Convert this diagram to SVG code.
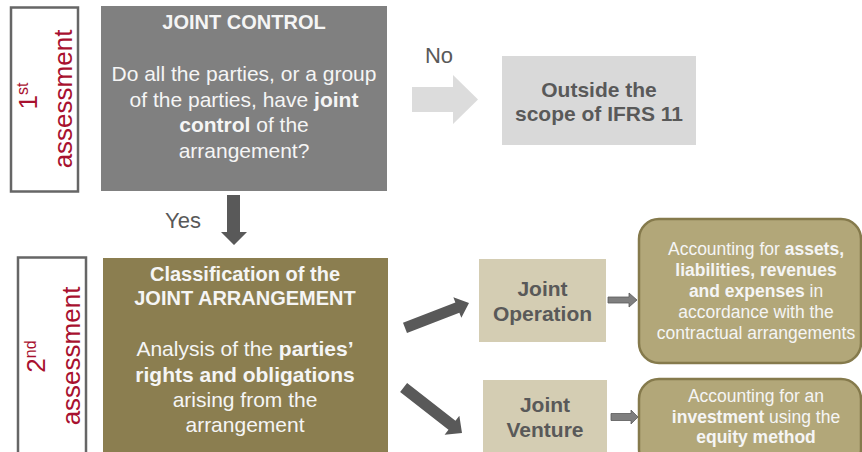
<svg xmlns="http://www.w3.org/2000/svg" width="862" height="452" viewBox="0 0 862 452">
<style>
text{font-family:"Liberation Sans",Arial,sans-serif}
.lbl{fill:#A8112F;font-size:26px}
.sup{font-size:16px}
.frame{fill:#FFFFFF;stroke:#666666;stroke-width:2.5}
.w{fill:#F5F5F5;text-anchor:middle}
.g{fill:#595959;text-anchor:middle}
.b{font-weight:bold}
.acc{fill:#B2A779;stroke:#857A4C;stroke-width:2.5}
.darr{fill:#595959}
.sarr{fill:#7F7F7F;stroke:#5A5A5A;stroke-width:0.8}
</style>
<g id="assess1">
<rect class="frame" x="11" y="7.5" width="67" height="184"/>
<text class="lbl" transform="translate(0,96) rotate(-90)" text-anchor="middle" x="0" y="37">1<tspan class="sup" dy="-9">st</tspan></text>
<text class="lbl" transform="translate(0,99) rotate(-90)" text-anchor="middle" x="0" y="72">assessment</text>
</g>
<g id="assess2">
<rect class="frame" x="18" y="257.5" width="68" height="200"/>
<text class="lbl" transform="translate(0,356.5) rotate(-90)" text-anchor="middle" x="0" y="45">2<tspan class="sup" dy="-9">nd</tspan></text>
<text class="lbl" transform="translate(0,356) rotate(-90)" text-anchor="middle" x="0" y="80">assessment</text>
</g>
<g id="jointControl">
<rect x="101" y="6" width="286" height="185" fill="#808080"/>
<text class="w b" x="244" y="29" font-size="20">JOINT CONTROL</text>
<text class="w" font-size="21"><tspan x="244" y="81">Do all the parties, or a group</tspan><tspan x="244" y="106.5">of the parties, have <tspan class="b">joint</tspan></tspan><tspan x="244" y="132"><tspan class="b">control</tspan> of the</tspan><tspan x="244" y="157.5">arrangement?</tspan></text>
</g>
<g id="outside">
<rect x="502" y="56" width="194" height="89" fill="#D9D9D9"/>
<text class="g b" font-size="21"><tspan x="599" y="97">Outside the</tspan><tspan x="599" y="121">scope of IFRS 11</tspan></text>
</g>
<g id="classification">
<rect x="103" y="258" width="285" height="200" fill="#8B7E50"/>
<text class="w b" font-size="20"><tspan x="245" y="281">Classification of the</tspan><tspan x="245" y="305">JOINT ARRANGEMENT</tspan></text>
<text class="w" font-size="21"><tspan x="245" y="356">Analysis of the <tspan class="b">parties’</tspan></tspan><tspan x="245" y="382" class="b">rights and obligations</tspan><tspan x="245" y="407">arising from the</tspan><tspan x="245" y="432">arrangement</tspan></text>
</g>
<g id="jointOperation">
<rect x="479" y="259" width="127" height="83" fill="#D4CDB3"/>
<text class="g b" font-size="21"><tspan x="542.5" y="296">Joint</tspan><tspan x="542.5" y="321">Operation</tspan></text>
</g>
<g id="jointVenture">
<rect x="483" y="380" width="124" height="80" fill="#D4CDB3"/>
<text class="g b" font-size="21"><tspan x="545" y="412">Joint</tspan><tspan x="545" y="437">Venture</tspan></text>
</g>
<g id="accOperation">
<rect class="acc" x="639" y="219" width="222" height="144" rx="20"/>
<text class="w" font-size="17.5"><tspan x="756" y="255">Accounting for <tspan class="b">assets,</tspan></tspan><tspan x="756" y="276" class="b">liabilities, revenues</tspan><tspan x="756" y="297"><tspan class="b">and expenses</tspan> in</tspan><tspan x="756" y="318">accordance with the</tspan><tspan x="756" y="339">contractual arrangements</tspan></text>
</g>
<g id="accVenture">
<rect class="acc" x="639" y="379" width="222" height="90" rx="20"/>
<text class="w" font-size="17.5"><tspan x="756" y="402">Accounting for an</tspan><tspan x="756" y="423"><tspan class="b">investment</tspan> using the</tspan><tspan x="756" y="443" class="b">equity method</tspan></text>
</g>
<g id="connectors">
<polygon points="412,87 453,87 453,75 478,99.5 453,124 453,112 412,112" fill="#DCDCDC"/>
<text class="g" x="439" y="63" font-size="22">No</text>
<polygon class="darr" points="227,195 240,195 240,232 247,232 234,245 221,232 227,232"/>
<text class="g" x="183" y="228" font-size="22">Yes</text>
<polygon class="darr" transform="translate(469,303) rotate(-21.3)" points="-68.7,-5.5 -12.5,-5.5 -12.5,-11 0,0 -12.5,11 -12.5,5.5 -68.7,5.5"/>
<polygon class="darr" transform="translate(462,433) rotate(37.9)" points="-74,-5.7 -12.7,-5.7 -12.7,-12 0,0 -12.7,12 -12.7,5.7 -74,5.7"/>
<polygon class="sarr" points="608,297 629,297 629,293 637,300 629,307 629,303 608,303"/>
<polygon class="sarr" points="611,413.5 631,413.5 631,410 638,417 631,424 631,420.5 611,420.5"/>
</g>
</svg>
